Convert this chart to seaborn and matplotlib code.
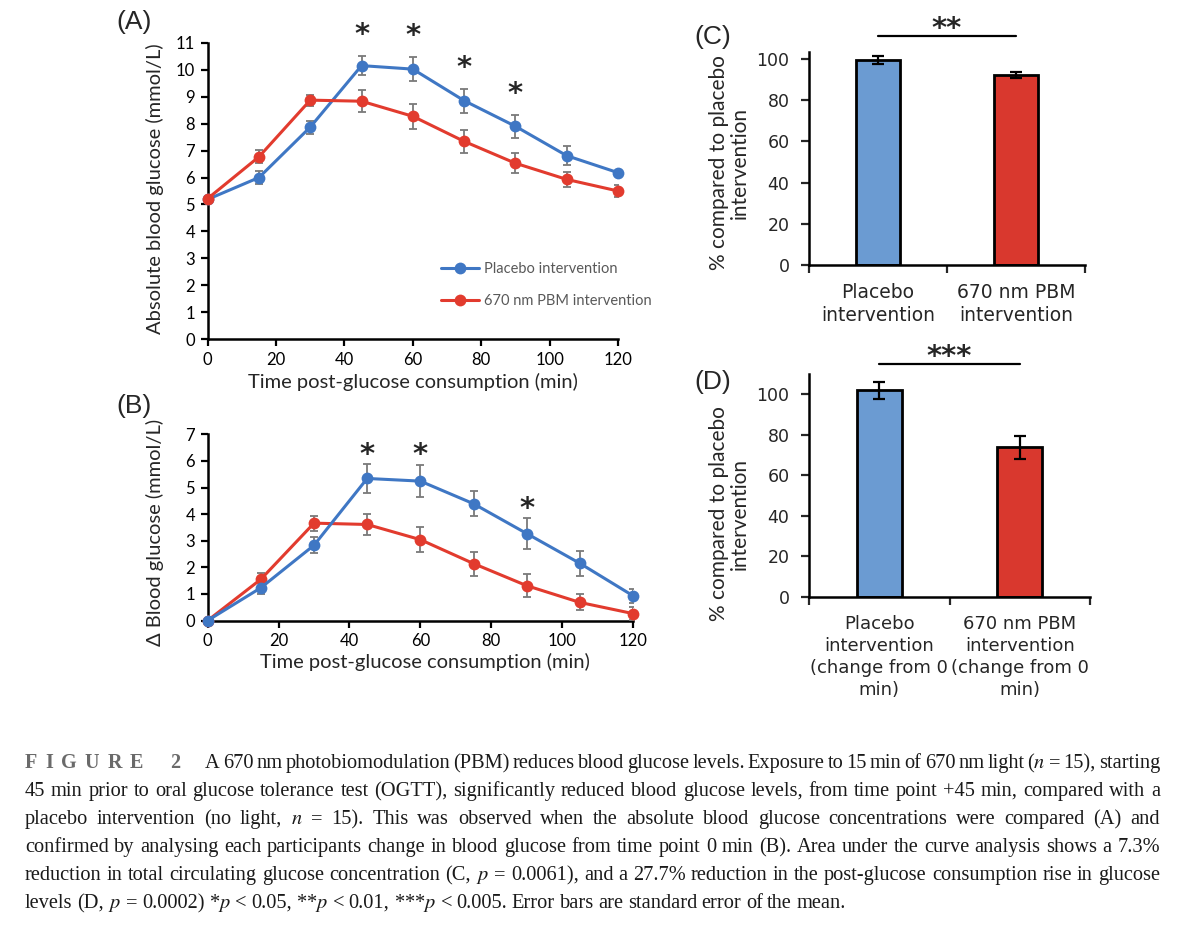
import matplotlib
matplotlib.use('Agg')
import matplotlib.pyplot as plt
import seaborn as sns
import pandas as pd

# Data
time_min = [0, 15, 30, 45, 60, 75, 90, 105, 120]
groups = ['Placebo intervention', '670 nm PBM intervention']

abs_placebo = [5.19, 6.00, 7.87, 10.15, 10.02, 8.85, 7.90, 6.81, 6.18]
abs_placebo_se = [0.08, 0.23, 0.24, 0.36, 0.45, 0.45, 0.43, 0.35, 0.08]
abs_pbm = [5.22, 6.77, 8.87, 8.83, 8.27, 7.34, 6.53, 5.93, 5.50]
abs_pbm_se = [0.08, 0.24, 0.20, 0.40, 0.46, 0.43, 0.37, 0.27, 0.24]
sig_abs = [45, 60, 75, 90]

delta_placebo = [0.0, 1.23, 2.83, 5.34, 5.24, 4.39, 3.27, 2.15, 0.93]
delta_placebo_se = [0.0, 0.22, 0.31, 0.53, 0.60, 0.48, 0.57, 0.47, 0.26]
delta_pbm = [0.0, 1.55, 3.66, 3.61, 3.04, 2.14, 1.31, 0.68, 0.26]
delta_pbm_se = [0.0, 0.24, 0.28, 0.38, 0.46, 0.45, 0.42, 0.30, 0.25]
sig_delta = [45, 60, 90]

labels_c = ['Placebo\nintervention', '670 nm PBM\nintervention']
auc_total = [99.6, 92.2]
auc_total_se = [2.0, 1.5]
labels_d = ['Placebo\nintervention\n(change from 0\nmin)',
            '670 nm PBM\nintervention\n(change from 0\nmin)']
auc_rise = [101.8, 73.7]
auc_rise_se = [4.3, 5.5]

caption_lines = [
    'A 670 nm photobiomodulation (PBM) reduces blood glucose levels. Exposure to 15 min of 670 nm light ($n$ = 15), starting',
    '45 min prior to oral glucose tolerance test (OGTT), significantly reduced blood glucose levels, from time point +45 min, compared with a',
    'placebo intervention (no light, $n$ = 15). This was observed when the absolute blood glucose concentrations were compared (A) and',
    'confirmed by analysing each participants change in blood glucose from time point 0 min (B). Area under the curve analysis shows a 7.3%',
    'reduction in total circulating glucose concentration (C, $p$ = 0.0061), and a 27.7% reduction in the post-glucose consumption rise in glucose',
    'levels (D, $p$ = 0.0002) *$p$ < 0.05, **$p$ < 0.01, ***$p$ < 0.005. Error bars are standard error of the mean.',
]

line_blue = '#3F77C4'
line_red = '#E23B2E'
bar_blue = '#6B9BD2'
bar_red = '#D9382E'

sns.set_style('ticks')
plt.rcParams['font.family'] = ['Lato', 'DejaVu Sans']
plt.rcParams['mathtext.fontset'] = 'stix'
plt.rcParams['axes.linewidth'] = 1.8
plt.rcParams['axes.edgecolor'] = 'black'

W, H = 1200, 942
fig = plt.figure(figsize=(W / 100, H / 100), dpi=100)


def add_ax(l, t, r, b):
    return fig.add_axes([l / W, 1 - b / H, (r - l) / W, (b - t) / H])


def fx(x):
    return x / W


def fy(y):
    return 1 - y / H


def line_panel(ax, placebo, placebo_se, pbm, pbm_se, sig, ymax, star_off, order):
    df = pd.DataFrame({
        'time': time_min * 2,
        'value': placebo + pbm,
        'group': [groups[0]] * len(time_min) + [groups[1]] * len(time_min),
    })
    sns.lineplot(data=df, x='time', y='value', hue='group', hue_order=order,
                 palette={groups[0]: line_blue, groups[1]: line_red},
                 marker='o', markersize=8.5, markeredgewidth=0, linewidth=2.2,
                 errorbar=None, legend=False, ax=ax)
    for ln in ax.lines:
        ln.set_clip_on(False)
        ln.set_zorder(4)
    for vals, se in [(placebo, placebo_se), (pbm, pbm_se)]:
        ax.errorbar(time_min, vals, yerr=se, fmt='none', ecolor='#7A7A7A',
                    elinewidth=1.3, capsize=3, capthick=1.3, zorder=3)
    for t in sig:
        i = time_min.index(t)
        ax.annotate('*', xy=(t, placebo[i] + placebo_se[i]), xytext=(0, star_off),
                    textcoords='offset points', ha='center', va='center',
                    fontsize=21, fontweight='bold', family='DejaVu Sans',
                    annotation_clip=False)
    ax.set_xlim(0, 120)
    ax.set_ylim(0, ymax)
    ax.set_xticks(range(0, 121, 20))
    ax.set_yticks(range(0, ymax + 1))
    ax.set_xlabel('')
    ax.set_ylabel('')
    ax.tick_params(direction='out', length=5, width=1.6, labelsize=12, pad=4,
                   colors='black')
    sns.despine(ax=ax)


axA = add_ax(207.7, 42.7, 618, 339.3)
line_panel(axA, abs_placebo, abs_placebo_se, abs_pbm, abs_pbm_se, sig_abs, 11, 15, groups)
axA.legend(axA.lines[:2], groups, loc='center left', frameon=False,
           bbox_to_anchor=(fx(434), fy(285)), bbox_transform=fig.transFigure,
           borderpad=0, handlelength=2.6, handletextpad=0.3, labelspacing=1.2,
           fontsize=10.5, labelcolor='#595959')

axB = add_ax(207.7, 434.3, 633, 620.5)
line_panel(axB, delta_placebo, delta_placebo_se, delta_pbm, delta_pbm_se, sig_delta, 7, 7,
           groups[::-1])

fig.text(fx(155), fy(189), 'Absolute blood glucose (mmol/L)', rotation=90,
         ha='center', va='center', fontsize=14.5)
fig.text(fx(413), fy(382), 'Time post-glucose consumption (min)',
         ha='center', va='center', fontsize=14.5)
fig.text(fx(155), fy(532), 'Δ Blood glucose (mmol/L)', rotation=90,
         ha='center', va='center', fontsize=14.5)
fig.text(fx(425), fy(662), 'Time post-glucose consumption (min)',
         ha='center', va='center', fontsize=14.5)


def bar_panel(ax, labels, vals, se, ymax, yticks, stars, line_y, star_off, tick_fs):
    sns.barplot(x=labels, y=vals, hue=labels, palette=[bar_blue, bar_red],
                saturation=1, width=0.32, edgecolor='black', linewidth=2,
                legend=False, ax=ax)
    ax.errorbar([0, 1], vals, yerr=se, fmt='none', ecolor='black',
                elinewidth=1.6, capsize=4, capthick=1.6, zorder=5)
    ax.set_xlim(-0.5, 1.5)
    ax.set_ylim(0, ymax)
    ax.set_yticks(yticks)
    ax.set_xticks([0, 1])
    ax.set_xticklabels(labels, family='DejaVu Sans', fontsize=tick_fs, linespacing=1.28)
    ax.set_xticks([-0.5, 0.5, 1.5], minor=True)
    ax.tick_params(axis='x', which='major', length=0, pad=13)
    ax.tick_params(axis='x', which='minor', length=6, width=1.6, direction='out')
    ax.tick_params(axis='y', length=6, width=1.6, direction='out', pad=8,
                   labelsize=12.5)
    for t in ax.get_yticklabels():
        t.set_family('DejaVu Sans')
    ax.set_xlabel('')
    ax.set_ylabel('')
    sns.despine(ax=ax)
    ax.plot([0, 1], [line_y, line_y], color='black', lw=1.6, clip_on=False)
    ax.annotate(stars, xy=(0.5, line_y), xytext=(0, star_off), textcoords='offset points',
                ha='center', va='center', fontsize=21, fontweight='bold',
                family='DejaVu Sans', annotation_clip=False)


axC = add_ax(809, 52, 1085, 265)
bar_panel(axC, labels_c, auc_total, auc_total_se, 103.4, range(0, 101, 20), '**', 111.4, 5, 13.5)
axD = add_ax(809, 373.7, 1090, 597)
bar_panel(axD, labels_d, auc_rise, auc_rise_se, 110, range(0, 101, 20), '***', 115, 4.5, 13)

ylab = '% compared to placebo\nintervention'
fig.text(fx(729), fy(163), ylab, rotation=90, ha='center', va='center',
         multialignment='center', fontsize=15, linespacing=1.05)
fig.text(fx(729), fy(514), ylab, rotation=90, ha='center', va='center',
         multialignment='center', fontsize=15, linespacing=1.05)

for lab, x, y in [('(A)', 134, 22), ('(B)', 134, 406), ('(C)', 713, 37), ('(D)', 713, 382)]:
    fig.text(fx(x), fy(y), lab, ha='center', va='center', fontsize=19,
             family='Liberation Sans')

# Caption, justified word by word
renderer = fig.canvas.get_renderer()
cap_kw = dict(family='Liberation Serif', fontsize=14.7, color='#1a1a1a', va='baseline')

x = 25
for ch in 'FIGURE 2':
    t = fig.text(fx(x), fy(768), ch, family='Liberation Serif', fontsize=14.5,
                 fontweight='bold', color='#6a6a6a', va='baseline')
    x += t.get_window_extent(renderer).width + 8 + (6 if ch == ' ' else 0)

baselines = [768, 796, 824, 852, 880, 908]
for k, (line, yb) in enumerate(zip(caption_lines, baselines)):
    x0 = 205 if k == 0 else 25
    words = line.split(' ')
    texts = [fig.text(0, fy(yb), w, **cap_kw) for w in words]
    widths = [t.get_window_extent(renderer).width for t in texts]
    if k < len(caption_lines) - 1:
        gap = (1160 - x0 - sum(widths)) / (len(words) - 1)
    else:
        gap = 4.5
    x = x0
    for t, w in zip(texts, widths):
        t.set_x(fx(x))
        x += w + gap

fig.savefig('out.png', dpi=100)
